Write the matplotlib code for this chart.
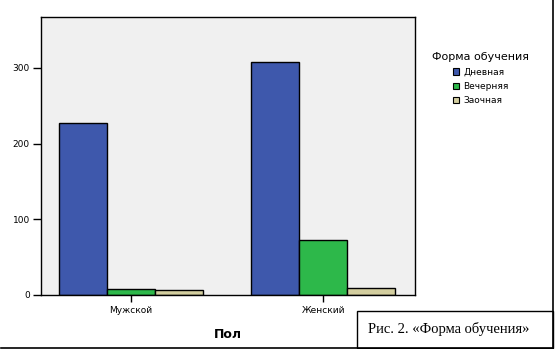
import matplotlib.pyplot as plt
from matplotlib.patches import Patch, Rectangle
from matplotlib.lines import Line2D
import numpy as np

# Распределение студентов по полу и форме обучения
groups = ["Мужской", "Женский"]
forms = ["Дневная", "Вечерняя", "Заочная"]
dnevnaya = [227, 308]
vechernyaya = [8, 73]
zaochnaya = [6, 9]
colors = ["#3e58ac", "#2db84a", "#d3ce9f"]

fig = plt.figure(figsize=(5.55, 3.49), dpi=100)
ax = fig.add_axes([41/555, 54/349, 374/555, 278/349])
ax.set_facecolor("#f0f0f0")

x = np.arange(len(groups))
w = 0.249
for i, (vals, c) in enumerate(zip([dnevnaya, vechernyaya, zaochnaya], colors)):
    ax.bar(x + (i - 1) * w, vals, width=w, color=c, edgecolor="black", linewidth=1.0)

ax.set_xlim(-0.466, 1.477)
ax.set_ylim(0, 367)
ax.set_yticks([0, 100, 200, 300])
ax.set_xticks(x)
ax.set_xticklabels(groups)
ax.tick_params(axis="y", length=6, width=1, labelsize=6.5, pad=2)
ax.tick_params(axis="x", length=5, width=1, labelsize=6.5, pad=3)
for s in ax.spines.values():
    s.set_linewidth(1.0)
ax.set_xlabel("Пол", fontsize=9, fontweight="bold", labelpad=9)

handles = [Patch(facecolor=c, edgecolor="black", linewidth=0.8) for c in colors]
leg = fig.legend(handles, forms, title="Форма обучения", loc="upper left",
                 bbox_to_anchor=(424/555, 1 - 44/349), frameon=False,
                 fontsize=6.5, title_fontsize=8, handlelength=0.7, handleheight=0.7,
                 handletextpad=0.5, labelspacing=0.6)

# рамка рисунка и подпись
fig.add_artist(Line2D([553/555, 553/555], [1/349, 1], color="black", lw=1.2,
                      transform=fig.transFigure))
fig.add_artist(Line2D([1/555, 553/555], [1/349, 1/349], color="black", lw=1.2,
                      transform=fig.transFigure))
fig.add_artist(Rectangle((357/555, 1/349), 196/555, 37/349, fill=False,
                         edgecolor="black", lw=1.0, transform=fig.transFigure))
fig.text(368/555, 1 - 329/349, "Рис. 2. «Форма обучения»", fontsize=10.5,
         family="Liberation Serif", va="center", ha="left")

fig.savefig("out.png", dpi=100)
